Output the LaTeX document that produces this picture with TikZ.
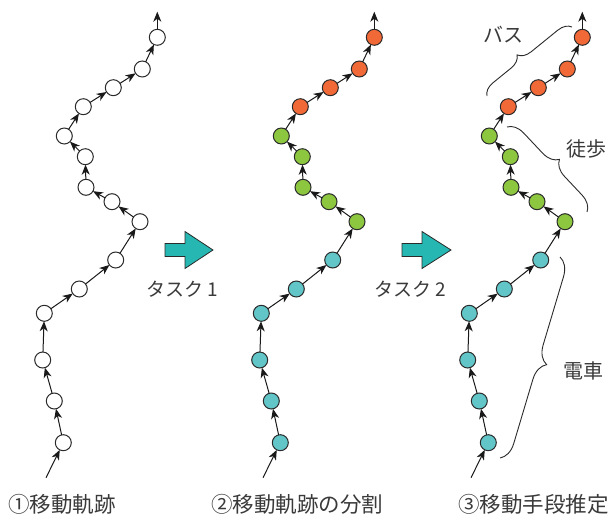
\documentclass[tikz,border=0pt]{standalone}
\usepackage{fontspec}
\setmainfont{Noto Sans CJK JP}
\usetikzlibrary{arrows.meta,decorations.pathreplacing}
\definecolor{orng}{HTML}{F26938}
\definecolor{grn}{HTML}{8DC63F}
\definecolor{cyn}{HTML}{62C6C8}
\definecolor{tealarrow}{HTML}{26B7B2}
\definecolor{txt}{HTML}{3A3A3A}
\definecolor{edge}{HTML}{2A2A2A}
\begin{document}
\begin{tikzpicture}[x=1pt,y=-1pt,
  pt/.style={circle,draw=edge,line width=1pt,minimum size=16pt,inner sep=0pt,outer sep=0pt},
  link/.style={-{Stealth[length=10pt,width=8pt,inset=3pt]},line width=1pt,draw=black!90},
  blockarrow/.style={fill=tealarrow,draw=edge,line width=0.8pt,line join=miter},
  bracestyle/.style={draw=edge,line width=0.9pt,decorate},
  lbl/.style={text=txt,font=\fontsize{20}{22}\selectfont,inner sep=0pt},
  tasklbl/.style={text=txt,font=\fontsize{19}{21}\selectfont,inner sep=0pt},
  captxt/.style={text=txt,font=\fontsize{21.5}{23}\selectfont,inner sep=0pt,anchor=west}]
\useasboundingbox (0,0) rectangle (609,516);
\def\pts{63.3/442.7,54.3/401,42.7/360,44.3/313.3,79.3/289,115.7/260,140/221.7,112/201.7,86/187.3,85.3/156.7,64.3/136,83.3/106.7,113.3/87.7,142.3/69,157.3/37.3}
\foreach \p/\dx in {a/0,b/217,c/425} {
  \foreach \x/\y [count=\i] in \pts {
    \if\p a\def\fc{white}\else
      \ifnum\i<7 \def\fc{cyn}\else
        \ifnum\i<12 \def\fc{grn}\else\def\fc{orng}\fi
      \fi
    \fi
    \node[pt,fill=\fc] (\p\i) at (\x+\dx,\y) {};
  }
  \coordinate (\p-s) at (46+\dx,477.7);
  \coordinate (\p-e) at (157.3+\dx,11.7);
  \draw[link] (\p-s) -- (\p1);
  \draw[link] (\p15) -- (\p-e);
  \foreach \i [evaluate=\i as \j using int(\i+1)] in {1,...,14} {
    \draw[link] (\p\i) -- (\p\j);
  }
}
% block arrows
\draw[blockarrow] (165,243.5) -- (185,243.5) -- (185,231.5) -- (213,250) -- (185,268.5) -- (185,256.5) -- (165,256.5) -- cycle;
\draw[blockarrow] (402,243.5) -- (422,243.5) -- (422,231.5) -- (451,250) -- (422,268.5) -- (422,256.5) -- (402,256.5) -- cycle;
\node[tasklbl] (t1) at (182,289) {タスク 1};
\node[tasklbl] (t2) at (410.5,289) {タスク 2};
% braces
\draw[bracestyle,decoration={brace,amplitude=13pt,aspect=0.45}] (487,96) -- (572,27);
\draw[bracestyle,decoration={brace,amplitude=16pt,aspect=0.51}] (507,127) -- (587,212);
\draw[bracestyle,decoration={brace,amplitude=18pt,aspect=0.51}] (560,257) -- (500,458);
\node[lbl] (bus) at (503,35) {バス};
\node[lbl] (walk) at (586,149) {徒歩};
\node[lbl] (train) at (583,371) {電車};
% captions
\node[captxt] (c1cap) at (8,504) {①移動軌跡};
\node[captxt] (c2cap) at (211,504) {②移動軌跡の分割};
\node[captxt] (c3cap) at (458,504) {③移動手段推定};
\end{tikzpicture}
\end{document}
